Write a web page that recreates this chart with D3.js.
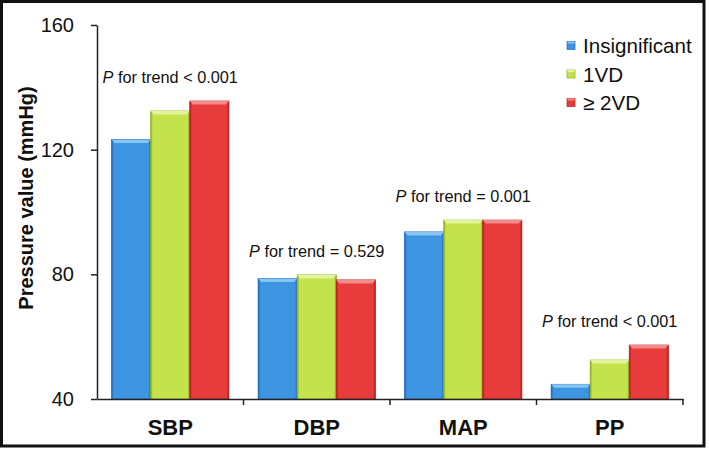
<!DOCTYPE html>
<html>
<head>
<meta charset="utf-8">
<script src="https://cdn.jsdelivr.net/npm/d3@7"></script>
<style>
  html, body { margin: 0; padding: 0; background: #fff; }
  svg { display: block; font-family: "Liberation Sans", Arial, sans-serif; }
</style>
</head>
<body>
<svg id="chart" width="709" height="449"></svg>
<script>
const categories = ["SBP", "DBP", "MAP", "PP"];
const seriesNames = ["Insignificant", "1VD", "\u2265 2VD"];
const insignificant = [123.3, 78.7, 93.6, 44.7];
const oneVD = [132.4, 79.8, 97.4, 52.5];
const twoVD = [135.6, 78.2, 97.4, 57.3];
const pTexts = ["< 0.001", "= 0.529", "= 0.001", "< 0.001"];
const yTicks = [40, 80, 120, 160];

(function () {
const series = [insignificant, oneVD, twoVD];
const colors = [
  { fill: "#3d95e1", light: "#86c6f3", dark: "#1f66b8" },
  { fill: "#c3e24b", light: "#e2f39a", dark: "#8fae22" },
  { fill: "#e83b3b", light: "#f48a8a", dark: "#b51f1f" }
];

const svg = d3.select("#chart");

// frame
svg.append("rect").attr("x", 1.5).attr("y", 1.5).attr("width", 702.5).attr("height", 444.5)
  .attr("fill", "none").attr("stroke", "#111").attr("stroke-width", 3);

const mLeft = 97, mRight = 683, mTop = 25, mBottom = 399;

const y = d3.scaleLinear().domain([40, 160]).range([mBottom, mTop]);
const x0 = d3.scaleBand().domain(categories).range([mLeft, mRight]).paddingInner(0.2).paddingOuter(0.1);
const x1 = d3.scaleBand().domain(d3.range(series.length)).range([0, x0.bandwidth()]);

// bars
const groups = svg.append("g").selectAll("g").data(categories).join("g")
  .attr("transform", c => `translate(${x0(c)},0)`);

groups.each(function(c, ci) {
  const g = d3.select(this);
  series.forEach((s, si) => {
    const bx = x1(si), bw = x1.bandwidth();
    const by = y(s[ci]), bh = y(40) - y(s[ci]);
    const col = colors[si];
    g.append("rect").attr("x", bx).attr("y", by).attr("width", bw).attr("height", bh)
      .attr("fill", col.fill).attr("stroke", col.dark).attr("stroke-width", 0.8);
    g.append("rect").attr("x", bx).attr("y", by).attr("width", 1.5).attr("height", bh)
      .attr("fill", col.dark).attr("opacity", 0.7);
    g.append("rect").attr("x", bx + bw - 1.5).attr("y", by).attr("width", 1.5).attr("height", bh)
      .attr("fill", col.dark).attr("opacity", 0.7);
    g.append("polygon")
      .attr("points", [[bx, by], [bx + bw, by], [bx + bw - 3, by + 3.5], [bx + 3, by + 3.5]].map(p => p.join(",")).join(" "))
      .attr("fill", col.light);
  });
});

// y axis
const yAxis = svg.append("g").attr("transform", `translate(${mLeft},0)`)
  .call(d3.axisLeft(y).tickValues(yTicks).tickSize(6).tickPadding(17).tickSizeOuter(0));
yAxis.select(".domain").attr("stroke", "#222").attr("stroke-width", 1.5);
yAxis.selectAll(".tick line").attr("stroke", "#222").attr("stroke-width", 1.5);
yAxis.selectAll(".tick text").attr("font-size", 20).attr("fill", "#111")
  .attr("font-family", "Liberation Sans, Arial, sans-serif");

// x axis
const xAxis = svg.append("g").attr("transform", `translate(0,${mBottom})`)
  .call(d3.axisBottom(x0).tickSize(0).tickPadding(20).tickSizeOuter(0));
xAxis.select(".domain").attr("stroke", "#222").attr("stroke-width", 1.5);
xAxis.selectAll(".tick text").attr("font-size", 22).attr("font-weight", "bold").attr("fill", "#111")
  .attr("font-family", "Liberation Sans, Arial, sans-serif");
const boundaries = categories.slice(1).map(c => x0(c) - x0.step() * x0.paddingInner() / 2).concat([mRight]);
xAxis.selectAll(".bt").data(boundaries).join("line").attr("class", "bt")
  .attr("x1", d => d).attr("x2", d => d).attr("y1", 0).attr("y2", 6)
  .attr("stroke", "#222").attr("stroke-width", 1.5);

// y title
svg.append("text").attr("transform", `translate(33,198) rotate(-90)`)
  .attr("text-anchor", "middle").attr("font-size", 20).attr("font-weight", "bold").attr("fill", "#111")
  .text("Pressure value (mmHg)");

// P annotations
categories.forEach((c, ci) => {
  const maxV = d3.max(series, s => s[ci]);
  const t = svg.append("text").attr("x", x0(c) + x0.bandwidth() / 2).attr("y", y(maxV) - 18)
    .attr("text-anchor", "middle").attr("font-size", 16.3).attr("fill", "#111");
  t.append("tspan").attr("font-style", "italic").text("P");
  t.append("tspan").text(" for trend " + pTexts[ci]);
});

// legend
const legend = svg.append("g").attr("transform", "translate(567,0)");
seriesNames.forEach((n, i) => {
  const baseline = 53 + i * 28.5;
  const col = colors[i];
  legend.append("rect").attr("x", 0).attr("y", baseline - 11.5).attr("width", 8).attr("height", 8)
    .attr("fill", col.fill).attr("stroke", col.dark).attr("stroke-width", 0.7);
  legend.append("rect").attr("x", 0.5).attr("y", baseline - 11.5).attr("width", 7).attr("height", 2)
    .attr("fill", col.light);
  legend.append("text").attr("x", 16).attr("y", baseline).attr("font-size", 20.6).attr("fill", "#111").text(n);
});
})();
</script>
</body>
</html>
